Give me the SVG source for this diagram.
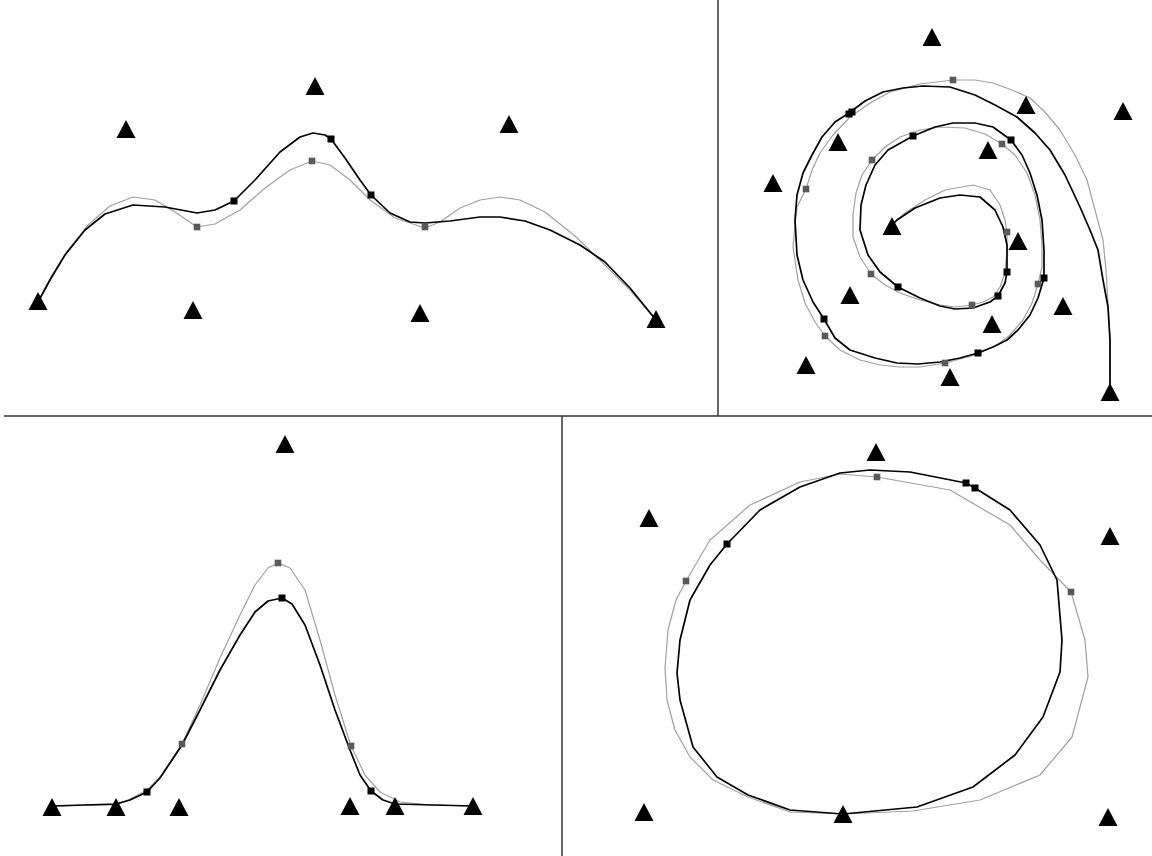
<svg xmlns="http://www.w3.org/2000/svg" width="1152" height="856" viewBox="0 0 1152 856">
<style>
.g{fill:none;stroke:#a0a0a0;stroke-width:1.2;stroke-linejoin:round;stroke-linecap:round}
.k{fill:none;stroke:#000;stroke-width:1.7;stroke-linejoin:round;stroke-linecap:round}
.sep{stroke:#333;stroke-width:1.5;fill:none}
.bs{fill:#000}
.gs{fill:#5a5a5a}
.tri{fill:#000}
</style>
<defs>
<path id="t" d="M0,-10 L9.5,8 L-9.5,8 Z"/>
<rect id="sq" x="-3.5" y="-3.5" width="7" height="7"/>
<rect id="gq" x="-3.3" y="-3.3" width="6.6" height="6.6"/>
</defs>
<rect width="1152" height="856" fill="#fff"/>
<g id="frame">
<line class="sep" x1="4" y1="416" x2="1152" y2="416"/>
<line class="sep" x1="718" y1="0" x2="718" y2="416"/>
<line class="sep" x1="562" y1="416" x2="562" y2="856"/>
</g>
<g id="panel-top-left">
<polyline class="g" points="38,302 52,275 68,250 88,225 110,206 133,197 155,200 175,212 197,227 215,224 240,210 265,188 290,170 312,161 330,165 350,180 370,200 395,218 425,228 440,222 460,208 480,200 500,197 520,200 545,212 575,236 605,265 630,290 656,320"/>
<polyline class="k" points="38,302 50,280 65,255 85,230 105,214 133,205 165,207 197,213 215,210 234,201 255,180 280,152 300,137 313,133 325,135 331,139 345,158 360,180 371,195 390,213 410,222 425,223 450,221 480,217 500,217 525,221 550,230 580,245 605,262 630,288 656,320"/>
<g class="gs"><use href="#gq" x="197" y="227"/><use href="#gq" x="312" y="161"/><use href="#gq" x="425" y="227"/></g>
<g class="bs"><use href="#sq" x="234" y="201"/><use href="#sq" x="331" y="139"/><use href="#sq" x="371" y="195"/></g>
<g class="tri"><use href="#t" x="38" y="302"/><use href="#t" x="126" y="130"/><use href="#t" x="193" y="311"/><use href="#t" x="315" y="87"/><use href="#t" x="420" y="314"/><use href="#t" x="509" y="125"/><use href="#t" x="656" y="320"/></g>
</g>
<g id="panel-top-right">
<polyline class="g" points="892,225 905,213 925,200 945,190 973,185 990,190 1000,205 1005,220 1007,232 1007,250 1005,273 1000,287 993,297 983,302 972,305 955,307 940,305 920,300 900,293 885,285 871,274 860,257 853,237 853,215 856,193 862,175 872,160 885,147 900,137 920,130 940,127 965,128 985,134 1002,144 1015,155 1027,173 1035,195 1040,220 1042,245 1042,267 1038,284 1032,303 1023,320 1010,335 997,345 975,355 945,363 920,367 900,367 880,365 860,360 840,350 825,336 815,322 805,303 798,280 793,247 795,225 797,207 806,189 812,170 820,153 833,135 850,117 870,103 890,92 920,84 953,80 975,80 993,83 1012,90 1030,98 1045,112 1060,130 1075,155 1087,180 1095,210 1103,240 1106,270 1108,303 1110,340 1110,387"/>
<polyline class="k" points="892,225 897,220 915,208 940,198 960,195 980,197 995,210 1003,227 1007,245 1007,260 1007,272 1005,283 998,296 990,302 973,308 955,309 940,306 920,298 898,287 880,272 868,255 860,230 861,205 866,185 875,165 888,150 913,136 935,127 953,123 975,123 993,127 1011,140 1022,155 1030,173 1037,195 1042,220 1044,250 1044,278 1038,298 1030,315 1018,330 1007,340 993,347 978,353 960,358 940,362 918,364 897,363 875,358 850,350 835,338 824,319 813,302 803,280 797,255 795,220 797,195 803,173 812,155 822,137 835,122 849,113 865,101 883,92 903,88 923,86 950,87 975,95 995,105 1017,117 1035,133 1050,150 1065,175 1080,207 1090,230 1098,250 1103,280 1108,307 1110,340 1110,387"/>
<g class="gs"><use href="#gq" x="953" y="80"/><use href="#gq" x="1002" y="144"/><use href="#gq" x="872" y="160"/><use href="#gq" x="806" y="189"/><use href="#gq" x="1007" y="232"/><use href="#gq" x="871" y="274"/><use href="#gq" x="972" y="305"/><use href="#gq" x="1038" y="284"/><use href="#gq" x="825" y="336"/><use href="#gq" x="945" y="363"/></g>
<g class="bs"><use href="#sq" x="849" y="114"/><use href="#sq" x="852" y="112"/><use href="#sq" x="913" y="136"/><use href="#sq" x="1011" y="140"/><use href="#sq" x="1007" y="272"/><use href="#sq" x="998" y="296"/><use href="#sq" x="898" y="287"/><use href="#sq" x="1044" y="278"/><use href="#sq" x="824" y="319"/><use href="#sq" x="978" y="353"/></g>
<g class="tri"><use href="#t" x="932" y="38"/><use href="#t" x="1026" y="106"/><use href="#t" x="1123" y="112"/><use href="#t" x="838" y="143"/><use href="#t" x="988" y="151"/><use href="#t" x="773" y="184"/><use href="#t" x="892" y="227"/><use href="#t" x="1018" y="242"/><use href="#t" x="850" y="296"/><use href="#t" x="1063" y="307"/><use href="#t" x="992" y="325"/><use href="#t" x="806" y="366"/><use href="#t" x="950" y="378"/><use href="#t" x="1110" y="393"/></g>
</g>
<g id="panel-bottom-left">
<polyline class="g" points="52,806 116,805 130,799 147,790 160,777 170,762 182,744 200,705 220,658 240,615 255,585 268,568 278,563 290,568 305,590 320,640 335,695 351,746 365,775 380,792 400,802 430,805 473,806"/>
<polyline class="k" points="52,806 116,804 130,800 147,792 160,778 172,760 182,745 200,710 220,670 240,635 255,612 268,601 282,598 292,604 305,625 320,665 335,710 350,750 360,775 371,791 383,800 395,804 473,806"/>
<g class="gs"><use href="#gq" x="182" y="744"/><use href="#gq" x="278" y="563"/><use href="#gq" x="351" y="746"/></g>
<g class="bs"><use href="#sq" x="147" y="792"/><use href="#sq" x="282" y="598"/><use href="#sq" x="371" y="791"/></g>
<g class="tri"><use href="#t" x="52" y="808"/><use href="#t" x="116" y="808"/><use href="#t" x="179" y="808"/><use href="#t" x="285" y="445"/><use href="#t" x="350" y="807"/><use href="#t" x="395" y="807"/><use href="#t" x="473" y="807"/></g>
</g>
<g id="panel-bottom-right">
<polygon class="g" points="843,814 790,812 748,797 713,780 690,757 675,730 667,700 665,668 668,630 676,600 686,581 710,540 750,505 800,482 840,474 877,477 950,490 1010,525 1040,560 1071,592 1085,640 1088,677 1072,737 1040,775 980,800 913,811"/>
<polygon class="k" points="843,814 790,810 748,795 717,777 693,747 680,700 677,673 680,640 690,600 710,565 727,544 760,510 800,487 840,473 870,470 910,472 966,483 975,488 1010,510 1040,545 1057,580 1062,640 1060,672 1043,717 1015,755 973,787 917,807"/>
<g class="gs"><use href="#gq" x="686" y="581"/><use href="#gq" x="877" y="477"/><use href="#gq" x="1071" y="592"/></g>
<g class="bs"><use href="#sq" x="727" y="544"/><use href="#sq" x="966" y="483"/><use href="#sq" x="975" y="488"/></g>
<g class="tri"><use href="#t" x="649" y="519"/><use href="#t" x="876" y="453"/><use href="#t" x="1110" y="537"/><use href="#t" x="644" y="813"/><use href="#t" x="843" y="815"/><use href="#t" x="1108" y="818"/></g>
</g>
</svg>
